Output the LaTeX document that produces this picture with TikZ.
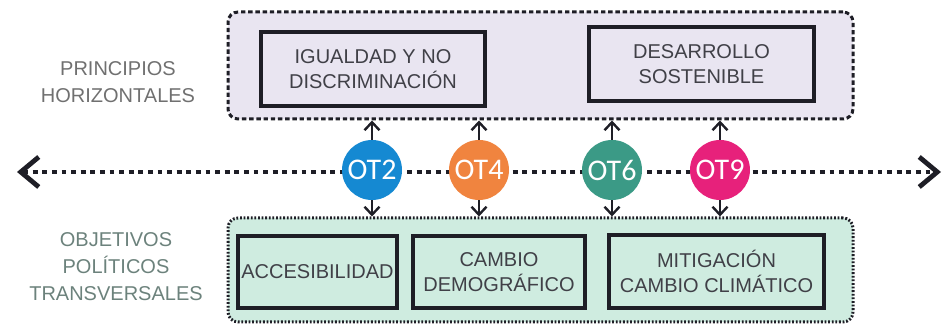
\documentclass[tikz,border=0pt]{standalone}
\usepackage{fontspec}
\setmainfont{Liberation Sans}
\newfontfamily\otfont{Carlito}
\usepackage{xcolor}
\usetikzlibrary{arrows.meta,positioning}
\definecolor{ink}{HTML}{1E1E26}
\definecolor{lila}{HTML}{E9E5F1}
\definecolor{menta}{HTML}{CFECE0}
\definecolor{grislab}{HTML}{707070}
\definecolor{verdelab}{HTML}{6C827C}
\definecolor{azul}{HTML}{1589D2}
\definecolor{naranja}{HTML}{F0843F}
\definecolor{teal}{HTML}{3B9A86}
\definecolor{rosa}{HTML}{E7217B}
\tikzset{grupo/.style={rounded corners=5pt,line width=1.5pt,draw=ink},
  principio/.style={draw=ink,line width=1.6pt,fill=lila,align=center,
    inner sep=0pt,font=\fontsize{10}{12.5}\selectfont,text=ink!85},
  objetivo/.style={principio,fill=menta},
  etiqueta/.style={align=center,font=\fontsize{10}{13.5}\selectfont},
  ot/.style={circle,minimum size=30pt,inner sep=0pt,text=white,
    font=\otfont\fontsize{15}{15}\selectfont},
  flecha/.style={-{Straight Barb[length=4pt,width=7.5pt,line width=1.2pt]},line width=1pt,draw=ink}}
\begin{document}
\begin{tikzpicture}[x=0.5pt,y=0.5pt]
\useasboundingbox (0,0) rectangle (944,325);
% marcos
\node[grupo,dash pattern=on 2.2pt off 1.4pt,fill=lila,minimum width=312.5pt,minimum height=53.5pt] (ph) at (540.5,259.5) {};
\node[grupo,dash pattern=on 0.9pt off 0.9pt,fill=menta,minimum width=312.5pt,minimum height=52pt] (opt) at (540.5,55) {};
\node[principio,minimum width=112pt,minimum height=37pt] (igualdad) at (373,256) {IGUALDAD Y NO\\DISCRIMINACIÓN};
\node[principio,minimum width=112.5pt,minimum height=37pt] (desarrollo) at (701.5,261) {DESARROLLO\\SOSTENIBLE};
\node[objetivo,minimum width=79.5pt,minimum height=36pt] (accesib) at (317.5,53) {ACCESIBILIDAD};
\node[objetivo,minimum width=86pt,minimum height=36pt] (demog) at (499,53) {CAMBIO\\DEMOGRÁFICO};
\node[objetivo,minimum width=107.5pt,minimum height=36.5pt] (clima) at (716.5,53.5) {MITIGACIÓN\\CAMBIO CLIMÁTICO};
\node[etiqueta,text=grislab] (lblph) at (118,243) {PRINCIPIOS\\HORIZONTALES};
\node[etiqueta,text=verdelab] (lblopt) at (116,58) {OBJETIVOS\\POLÍTICOS\\TRANSVERSALES};
% eje
\coordinate (izq) at (17,153);
\coordinate (der) at (941,153);
\draw[ink,line width=2.4pt,dash pattern=on 2.4pt off 2.4pt,
  {Straight Barb[length=9pt,width=15pt,line width=2.4pt]}-{Straight Barb[length=9pt,width=15pt,line width=2.4pt]}] (izq) -- (der);
\node[ot,fill=azul] (ot2) at (372,155) {OT2};
\node[ot,fill=naranja] (ot4) at (479,155) {OT4};
\node[ot,fill=teal] (ot6) at (612,155) {OT6};
\node[ot,fill=rosa] (ot9) at (720,155) {OT9};
\foreach \o in {ot2,ot4,ot6,ot9}{
  \draw[flecha] (\o.north) -- (\o.north |- ph.south);
  \draw[flecha] (\o.south) -- (\o.south |- opt.north);}
\end{tikzpicture}
\end{document}
